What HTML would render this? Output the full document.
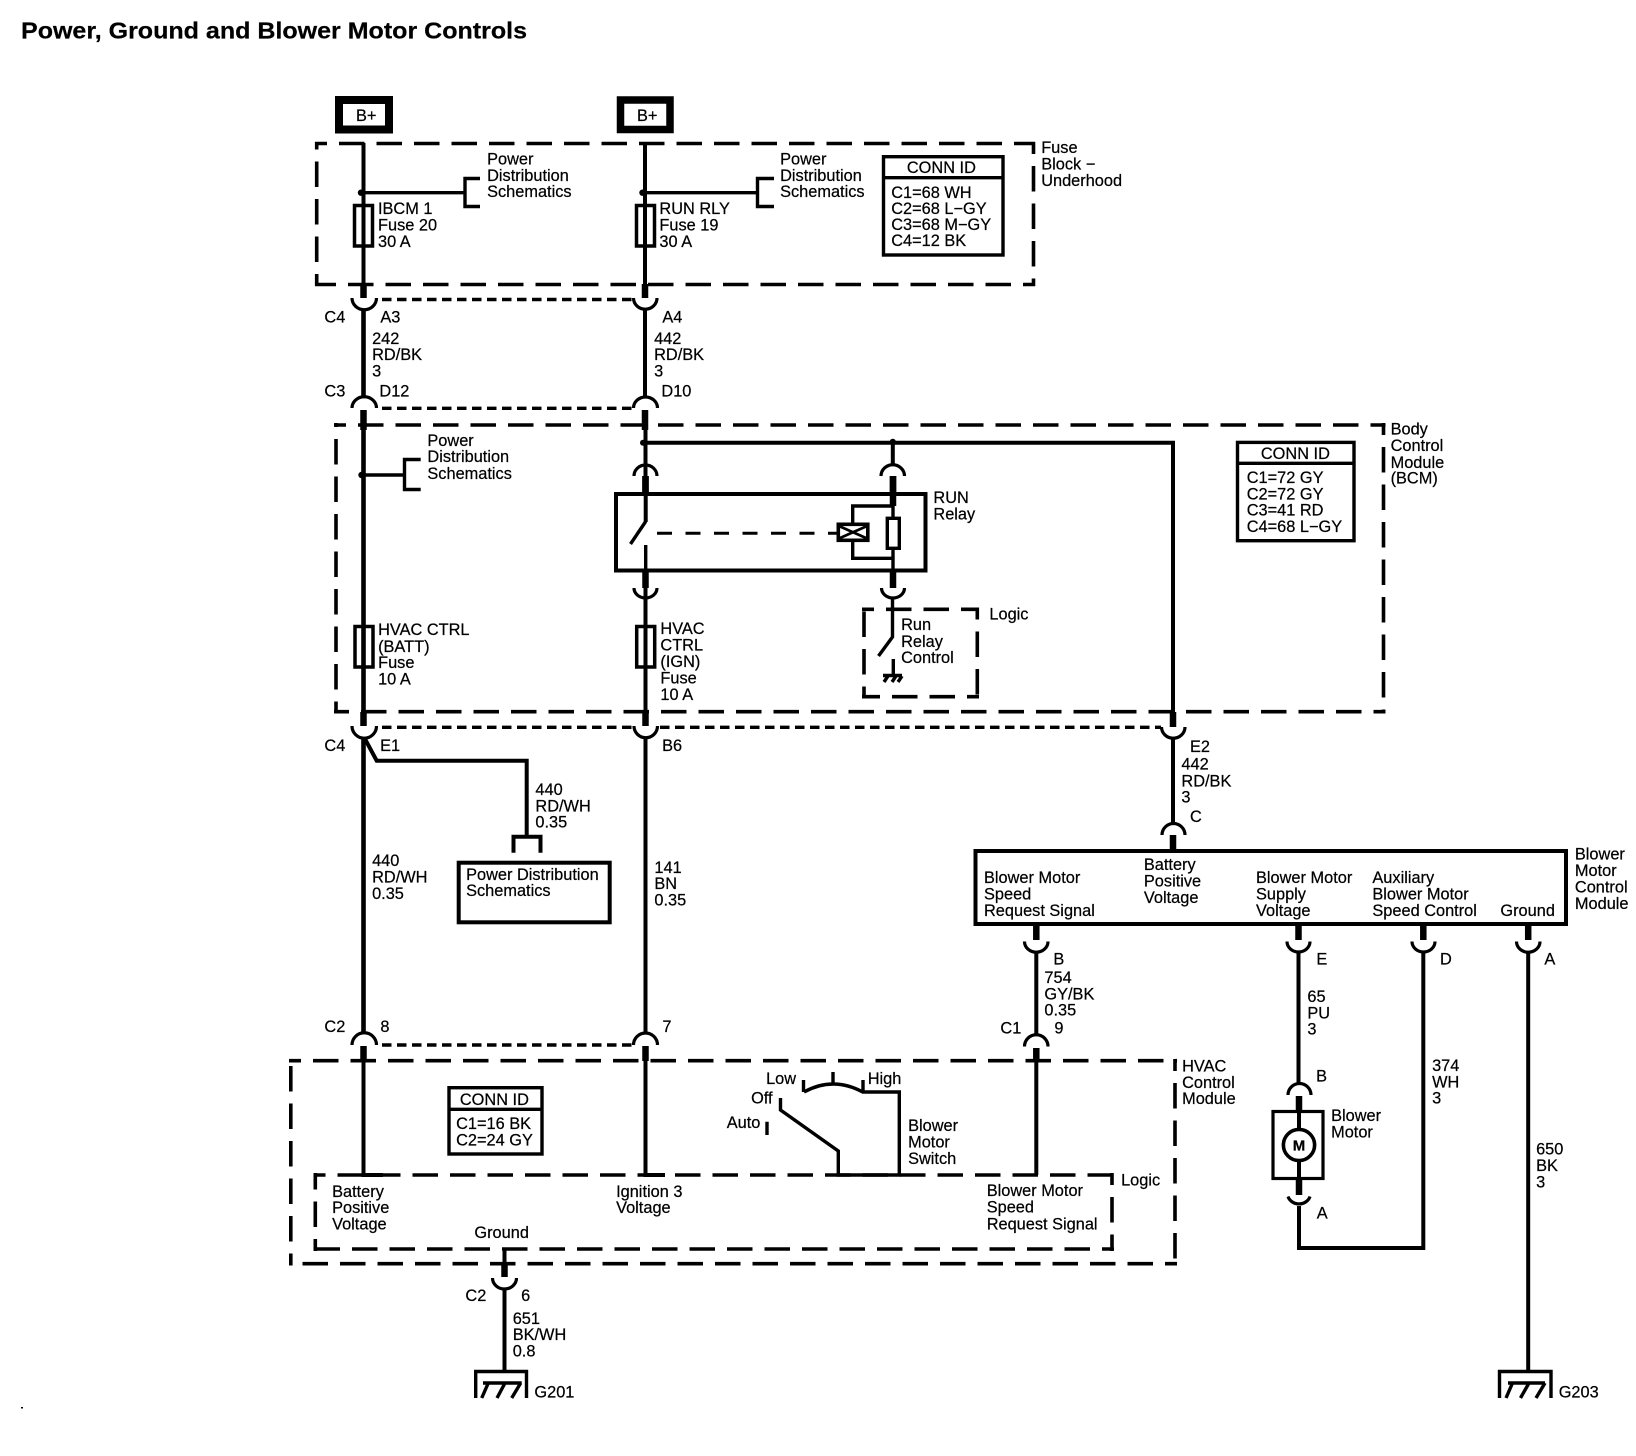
<!DOCTYPE html>
<html><head><meta charset="utf-8"><style>
html,body{margin:0;padding:0;background:#fff}
svg{display:block}
text{font-family:"Liberation Sans",sans-serif;font-size:16.35px;fill:#000;stroke:#000;stroke-width:.22px}
.w{fill:none;stroke:#000;stroke-width:4}
.t{fill:none;stroke:#000;stroke-width:3.4}
.k{fill:none;stroke:#000;stroke-width:6.5}
.c{fill:none;stroke:#000;stroke-width:3.2}
.d{fill:none;stroke:#000;stroke-width:3.6;stroke-dasharray:25.5 12;stroke-dashoffset:13.5}
.s{fill:none;stroke:#000;stroke-width:3.4;stroke-dasharray:9.5 5.5}
</style></head><body>
<svg width="1636" height="1456" viewBox="0 0 1636 1456" xmlns="http://www.w3.org/2000/svg">
<rect width="1636" height="1456" fill="#fff"/>
<text x="21" y="38.5" font-weight="bold" style="font-size:23px" textLength="506" lengthAdjust="spacingAndGlyphs">Power, Ground and Blower Motor Controls</text>
<rect x="21" y="1407" width="2" height="1.5" fill="#000"/>

<!-- B+ -->
<rect x="339" y="100" width="50" height="29.5" fill="none" stroke="#000" stroke-width="8"/>
<rect x="620.5" y="100" width="49.5" height="29.5" fill="none" stroke="#000" stroke-width="7.5"/>
<text x="356" y="121">B+</text><text x="637" y="121">B+</text>

<!-- dashed modules -->
<path class="d" d="M315 143.5H1035M1033.5 142V286M1035 284.5H315M316.7 286V142"/>
<path class="d" d="M334 425H1385.5M1383.5 423V713.5M1385.5 711.7H334M336 713.5V423"/>
<path class="d" d="M289 1060.7H1177M1175 1059V1265.5M1177 1263.7H289M290.8 1265.5V1059"/>
<path class="d" d="M313.5 1175H1114M1112 1173V1251M1114 1249H313.5M315.3 1251V1173"/>
<path class="d" d="M862 609.3H979M977.3 607.5V698.5M979 696.7H862M864 698.5V607.5"/>

<!-- dotted connector lines -->
<path class="s" d="M382 299.5H632M382 408.3H632M382 727.3H632M660 727.3H1161M382 1045H633"/>

<!-- Main wires -->
<path class="w" d="M363.5 143V284M645 143V284M645 310V397M645.5 430V712M645.5 738V1033"/>
<path class="w" style="stroke-width:4.6" d="M363.5 310V397M363.5 430V712M363.5 738V1033"/>
<path class="w" d="M645.5 442.7H1173V712M892.8 442.7V465M645.5 430V465"/>
<path class="w" d="M1173 738V823.5M1036.3 952V1035M1298.5 952V1083M1423.3 952V1248H1299V1206M1528.2 952V1370M504.5 1289V1370"/>
<path class="w" d="M363.5 1061V1175H383M645.5 1061V1175H665M1036.3 1061V1175M504.5 1249V1265"/>

<!-- thick stubs -->
<path class="k" d="M363.5 284V298M645 284V298M363.5 410V430M645 410V430M363.5 712V726M645.5 712V726M1173 712V727M645.5 476V493M893 476V506M645.5 572V588M893 558V588M1173 835V849M1036.3 926V940M1298.5 926V940M1423.3 926V940M1528.2 926V940M363.5 1046V1061M645.5 1046V1061M1036.3 1048V1062M504.5 1264V1277M1299 1096V1110M1299 1180V1195"/>

<!-- cups -->
<path class="c" d="M352 298A11.5 11 0 0 0 376.5 298M633.5 298A11.5 11 0 0 0 657 298M352 726A11.5 11.5 0 0 0 376.5 726M634 726A11.5 11.5 0 0 0 657.5 726M1161.5 727A11.5 11 0 0 0 1185 727M1024.5 941.5A11.5 10.5 0 0 0 1048 941.5M1287 941.5A11.5 10.5 0 0 0 1310 941.5M1412 941.5A11.5 10.5 0 0 0 1435 941.5M1516.5 941.5A11.5 10.5 0 0 0 1540 941.5M492.5 1278A12 11 0 0 0 516.5 1278M1288 1196.5A11.5 10.5 0 0 0 1310 1196.5M634 588A11.5 10 0 0 0 657 588M881.5 588A11.5 10 0 0 0 904.5 588"/>
<!-- caps -->
<path class="c" d="M352 408A12 11 0 0 1 376.5 408M633.5 408A12 11 0 0 1 657.5 408M634 476A11.5 11 0 0 1 657 476M881 476A11.5 11 0 0 1 904.5 476M1162 835A11.5 11.5 0 0 1 1185 835M352 1045A12 12 0 0 1 376.5 1045M633.5 1045A12 12 0 0 1 657.5 1045M1024.5 1046.5A11.5 11.5 0 0 1 1048 1046.5M1288 1095A11.5 11.5 0 0 1 1311 1095"/>

<!-- junctions & branches -->
<circle cx="361" cy="192.7" r="3.2"/><circle cx="642.5" cy="192.7" r="3.2"/><circle cx="361.5" cy="475" r="3.2"/><circle cx="643" cy="442.7" r="3"/><circle cx="892.8" cy="442" r="3.2"/><circle cx="893" cy="506" r="3.6"/><circle cx="893" cy="558.5" r="3.6"/>
<path class="t" d="M363 192.7H465M480 178.5H465V206.5H480M645 192.7H757.5M774 178.5H757.5V206.5H774M363 475H404.5M420.7 459.5H404.5V489.5H420.7"/>

<!-- fuses -->
<rect x="354.5" y="205.5" width="18" height="40.5" fill="none" stroke="#000" stroke-width="3.5"/>
<rect x="636.5" y="205.5" width="18" height="40.5" fill="none" stroke="#000" stroke-width="3.5"/>
<rect x="355" y="626.5" width="18" height="40.5" fill="none" stroke="#000" stroke-width="3.5"/>
<rect x="636.7" y="626.5" width="18" height="40.5" fill="none" stroke="#000" stroke-width="3.5"/>

<!-- Relay -->
<rect x="616" y="494" width="309.5" height="76.5" fill="#fff" stroke="#000" stroke-width="4"/>
<path class="w" d="M645.7 492V522"/>
<path class="k" d="M645.5 476V493M893 476V506"/>
<path class="t" d="M645.7 521.5L630.5 544M645.7 545V572M893 506V517M893 549V572"/>
<path class="t" d="M893 506H852.7V523M852.7 541.5V558.3H893"/>
<path fill="none" stroke="#000" stroke-width="3" stroke-dasharray="15 13.5" d="M657 533.3H836.7"/>
<rect x="838.3" y="524.3" width="29.5" height="16" fill="#fff" stroke="#000" stroke-width="3.6"/>
<path d="M840 526.5L866 538M866 526.5L840 538" stroke="#000" stroke-width="2.6" fill="none"/>
<rect x="887.3" y="518.3" width="12" height="30" fill="#fff" stroke="#000" stroke-width="3.4"/>

<!-- Run relay control -->
<path class="t" d="M892.5 598V637L878.5 656M893.3 659V675M883 675.5H902M888 676L884 682M896 676L892 682M902 676L898 682"/>

<!-- CONN ID boxes -->
<rect x="883.5" y="156.7" width="119.5" height="98.3" fill="none" stroke="#000" stroke-width="3.4"/><path class="t" d="M883 177.7H1003"/>
<rect x="1237.5" y="442.4" width="116.5" height="98.3" fill="none" stroke="#000" stroke-width="3.4"/><path class="t" d="M1237 463.3H1354"/>
<rect x="449" y="1087.7" width="93" height="66.3" fill="none" stroke="#000" stroke-width="3.4"/><path class="t" d="M449 1109.3H542"/>

<!-- E1 branch & PD box -->
<path class="t" d="M365 739L376.7 760.7H526.7V836.7M513.5 852.7V836.7H540.5V852.7" style="stroke-width:4"/>
<rect x="458.7" y="862.7" width="151" height="59.6" fill="none" stroke="#000" stroke-width="4"/>

<!-- Blower module -->
<rect x="975.5" y="851" width="590.5" height="73" fill="none" stroke="#000" stroke-width="4"/>

<!-- Switch -->
<path class="t" d="M804 1092Q833 1076 862.7 1092H899.3V1175H838.3V1151L780.5 1110V1098M803.5 1080V1092M833 1072V1084M863 1080V1092M767 1121.7V1135" style="stroke-width:3.4"/>

<!-- Motor -->
<rect x="1273" y="1111.5" width="50" height="67" fill="none" stroke="#000" stroke-width="3.2"/>
<path class="w" d="M1299 1110V1128M1299 1162V1180"/>
<circle cx="1299" cy="1145" r="15.6" fill="#fff" stroke="#000" stroke-width="3.6"/>
<text x="1299" y="1150.7" text-anchor="middle" font-weight="bold" style="font-size:15px">M</text>

<!-- Grounds -->
<path class="t" d="M475.7 1398V1371.5H526.5V1398M483 1383H521.7M488.3 1383L481.7 1398M505 1383L497 1398M520.7 1383L511.7 1398"/>
<path class="t" d="M1499.5 1398V1371.5H1551V1398M1508 1383H1545M1512.5 1383L1506 1398M1529 1383L1520.5 1398M1545 1383L1536 1398"/>

<!-- Labels -->
<g transform="translate(-0.6,-0.5)">
<text x="487.7" y="165">Power</text><text x="487.7" y="181.5">Distribution</text><text x="487.7" y="197.5">Schematics</text>
<text x="780.7" y="165">Power</text><text x="780.7" y="181.5">Distribution</text><text x="780.7" y="197.5">Schematics</text>
<text x="378.6" y="214.5">IBCM 1</text><text x="378.6" y="231">Fuse 20</text><text x="378.6" y="247.5">30 A</text>
<text x="660" y="214.5">RUN RLY</text><text x="660" y="231">Fuse 19</text><text x="660" y="247.5">30 A</text>
<text x="942" y="173.3" text-anchor="middle">CONN ID</text>
<text x="891.8" y="198.3">C1=68 WH</text><text x="891.8" y="214.3">C2=68 L−GY</text><text x="891.8" y="230.5">C3=68 M−GY</text><text x="891.8" y="246.7">C4=12 BK</text>
<text x="1041.8" y="153.3">Fuse</text><text x="1041.8" y="170">Block −</text><text x="1041.8" y="186.7">Underhood</text>
<text x="325" y="323">C4</text><text x="381" y="323">A3</text><text x="663" y="323">A4</text>
<text x="372.7" y="344.3">242</text><text x="372.7" y="360.5">RD/BK</text><text x="372.7" y="377">3</text>
<text x="654.7" y="344.3">442</text><text x="654.7" y="360.5">RD/BK</text><text x="654.7" y="377">3</text>
<text x="325" y="397">C3</text><text x="380" y="397">D12</text><text x="662" y="397">D10</text>
<text x="428" y="446.7">Power</text><text x="428" y="462.7">Distribution</text><text x="428" y="479.3">Schematics</text>
<text x="1296" y="459.3" text-anchor="middle">CONN ID</text>
<text x="1247.3" y="483.3">C1=72 GY</text><text x="1247.3" y="500">C2=72 GY</text><text x="1247.3" y="516">C3=41 RD</text><text x="1247.3" y="532.7">C4=68 L−GY</text>
<text x="1391.2" y="435">Body</text><text x="1391.2" y="451.7">Control</text><text x="1391.2" y="468.3">Module</text><text x="1391.2" y="484">(BCM)</text>
<text x="934" y="503.3">RUN</text><text x="934" y="520">Relay</text>
<text x="990" y="620">Logic</text>
<text x="901.7" y="630.7">Run</text><text x="901.7" y="647.3">Relay</text><text x="901.7" y="663.3">Control</text>
<text x="378.7" y="635.7">HVAC CTRL</text><text x="378.7" y="652.5">(BATT)</text><text x="378.7" y="668.5">Fuse</text><text x="378.7" y="685">10 A</text>
<text x="661" y="634.5">HVAC</text><text x="661" y="651">CTRL</text><text x="661" y="667.5">(IGN)</text><text x="661" y="684">Fuse</text><text x="661" y="700.5">10 A</text>
<text x="325" y="751.7">C4</text><text x="380.7" y="751.7">E1</text><text x="662.7" y="751.7">B6</text>
<text x="1190.6" y="752.3">E2</text><text x="1182" y="770">442</text><text x="1182" y="787">RD/BK</text><text x="1182" y="803">3</text><text x="1190.6" y="822.7">C</text>
<text x="536" y="795.7">440</text><text x="536" y="812">RD/WH</text><text x="536" y="828">0.35</text>
<text x="372.7" y="866.7">440</text><text x="372.7" y="883">RD/WH</text><text x="372.7" y="899.3">0.35</text>
<text x="655" y="873.3">141</text><text x="655" y="889.7">BN</text><text x="655" y="906">0.35</text>
<text x="466.7" y="880.7">Power Distribution</text><text x="466.7" y="896.7">Schematics</text>
<text x="984.6" y="883.3">Blower Motor</text><text x="984.6" y="900">Speed</text><text x="984.6" y="916.7">Request Signal</text>
<text x="1144.5" y="870.7">Battery</text><text x="1144.5" y="887">Positive</text><text x="1144.5" y="903.6">Voltage</text>
<text x="1256.6" y="883.3">Blower Motor</text><text x="1256.6" y="900">Supply</text><text x="1256.6" y="916.7">Voltage</text>
<text x="1373" y="883.3">Auxiliary</text><text x="1373" y="900">Blower Motor</text><text x="1373" y="916.7">Speed Control</text>
<text x="1501" y="916.7">Ground</text>
<text x="1575.5" y="860">Blower</text><text x="1575.5" y="876.7">Motor</text><text x="1575.5" y="893">Control</text><text x="1575.5" y="909.3">Module</text>
<text x="1054" y="965">B</text><text x="1317" y="965">E</text><text x="1440.6" y="965">D</text><text x="1545" y="965">A</text>
<text x="1045" y="983.3">754</text><text x="1045" y="1000">GY/BK</text><text x="1045" y="1016">0.35</text>
<text x="1001" y="1034">C1</text><text x="1055" y="1034">9</text>
<text x="1308" y="1002.7">65</text><text x="1308" y="1019">PU</text><text x="1308" y="1035">3</text>
<text x="325" y="1032.7">C2</text><text x="381" y="1032.7">8</text><text x="663" y="1032.7">7</text>
<text x="1432.7" y="1071.7">374</text><text x="1432.7" y="1088">WH</text><text x="1432.7" y="1104">3</text>
<text x="1536.7" y="1155">650</text><text x="1536.7" y="1171.7">BK</text><text x="1536.7" y="1188">3</text>
<text x="1316.7" y="1082">B</text><text x="1317.3" y="1219">A</text>
<text x="1331.7" y="1121.7">Blower</text><text x="1331.7" y="1138">Motor</text>
<text x="495" y="1105.7" text-anchor="middle">CONN ID</text>
<text x="456.7" y="1129.3">C1=16 BK</text><text x="456.7" y="1146">C2=24 GY</text>
<text x="766.7" y="1084.3">Low</text><text x="868.3" y="1084.3">High</text><text x="751.7" y="1104">Off</text><text x="727.3" y="1128.3">Auto</text>
<text x="908.7" y="1131.7">Blower</text><text x="908.7" y="1148">Motor</text><text x="908.7" y="1164.7">Switch</text>
<text x="1182.7" y="1072">HVAC</text><text x="1182.7" y="1088.3">Control</text><text x="1182.7" y="1104.3">Module</text>
<text x="1121.7" y="1186">Logic</text>
<text x="332.7" y="1197.3">Battery</text><text x="332.7" y="1213.6">Positive</text><text x="332.7" y="1230">Voltage</text>
<text x="616.7" y="1197.3">Ignition 3</text><text x="616.7" y="1213.7">Voltage</text>
<text x="987.3" y="1196.7">Blower Motor</text><text x="987.3" y="1213">Speed</text><text x="987.3" y="1230">Request Signal</text>
<text x="475" y="1238.7">Ground</text>
<text x="466" y="1301.7">C2</text><text x="521.7" y="1301.7">6</text>
<text x="513.3" y="1324.3">651</text><text x="513.3" y="1340.7">BK/WH</text><text x="513.3" y="1357">0.8</text>
<text x="535" y="1398">G201</text><text x="1559.3" y="1398">G203</text>
</g>
</svg>
</body></html>
